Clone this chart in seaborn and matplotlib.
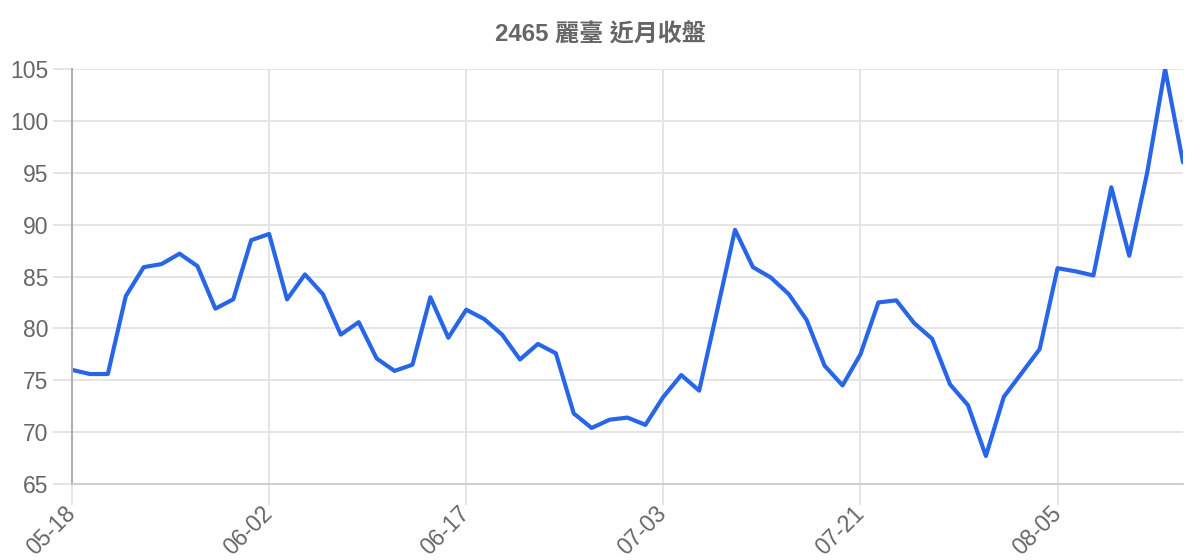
import matplotlib
matplotlib.use("Agg")
import matplotlib.pyplot as plt
import seaborn as sns
import numpy as np
import pandas as pd

# closing prices, one per trading day
closes = [
    76.0, 75.6, 75.6, 83.1, 85.9, 86.2, 87.2, 86.0, 81.9, 82.8,
    88.5, 89.1, 82.8, 85.2, 83.3, 79.4, 80.6, 77.1, 75.9, 76.5,
    83.0, 79.1, 81.8, 80.9, 79.4, 77.0, 78.5, 77.6, 71.8, 70.4,
    71.2, 71.4, 70.7, 73.4, 75.5, 74.0, 81.7, 89.5, 85.9, 84.9,
    83.3, 80.8, 76.4, 74.5, 77.5, 82.5, 82.7, 80.5, 79.0, 74.6,
    72.6, 67.7, 73.4, 75.7, 78.0, 85.8, 85.5, 85.1, 93.6, 87.0,
    95.0, 105.0, 96.0,
]
tick_pos = [0, 11, 22, 33, 44, 55]
tick_labels = ["05-18", "06-02", "06-17", "07-03", "07-21", "08-05"]
y_ticks = [65, 70, 75, 80, 85, 90, 95, 100, 105]
title = "2465 麗臺 近月收盤"

df = pd.DataFrame({"idx": np.arange(len(closes)), "close": closes})

sns.set_theme(style="white")
plt.rcParams["font.family"] = ["Liberation Sans", "Noto Sans CJK TC", "DejaVu Sans"]

grid_c = "#e3e3e3"
axis_c = "#b0b0b0"
text_c = "#666666"

fig = plt.figure(figsize=(12, 5.6), dpi=100)
ax = fig.add_axes([72 / 1200, 1 - 484 / 560, (1183 - 72) / 1200, (484 - 69) / 560])

sns.lineplot(data=df, x="idx", y="close", ax=ax, color="#2866e8", linewidth=3.0)

ax.set_xlim(0, len(closes) - 1)
ax.set_ylim(65, 105)
ax.set_xticks(tick_pos)
ax.set_xticklabels(tick_labels, rotation=45, ha="right", va="center",
                   rotation_mode="anchor")
ax.set_yticks(y_ticks)
ax.set_xlabel("")
ax.set_ylabel("")

ax.grid(True, color=grid_c, linewidth=1.3)
ax.set_axisbelow(True)
for side in ["top", "right"]:
    ax.spines[side].set_visible(False)
ax.spines["left"].set_color(axis_c)
ax.spines["left"].set_linewidth(1.5)
ax.spines["bottom"].set_color("#cccccc")
ax.spines["bottom"].set_linewidth(1.3)

ax.tick_params(axis="y", length=14, width=1.3, color=grid_c, pad=3,
               labelsize=16.5, labelcolor=text_c, left=True)
ax.tick_params(axis="x", length=15, width=1.3, color=grid_c, pad=4,
               labelsize=16.5, labelcolor=text_c, bottom=True)
# the y axis line runs on through the first x tick
first = ax.xaxis.get_major_ticks()[0].tick1line
first.set_color(axis_c)
first.set_linewidth(1.5)

fig.text(0.5, 1 - 35 / 560, title, ha="center", va="center",
         fontsize=17.3, fontweight="bold", color=text_c)

fig.savefig("out.png", dpi=100)
